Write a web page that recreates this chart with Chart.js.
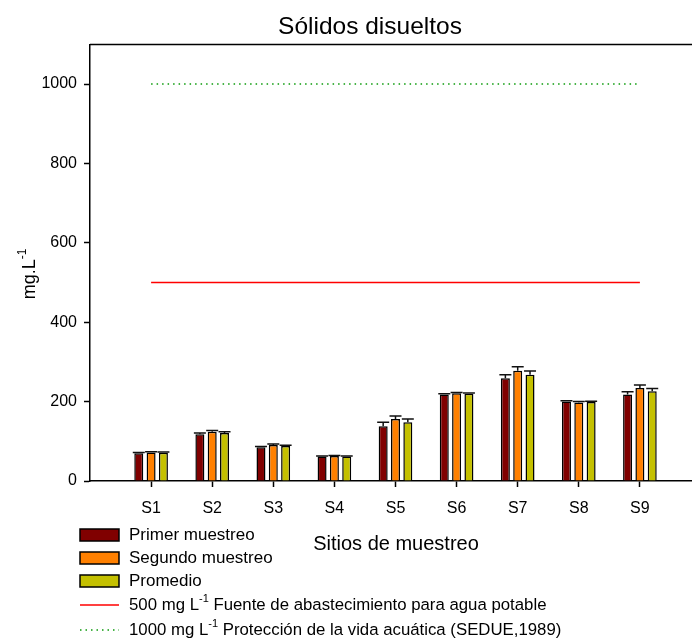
<!DOCTYPE html>
<html>
<head>
<meta charset="utf-8">
<title>Sólidos disueltos</title>
<script src="https://cdn.jsdelivr.net/npm/chart.js@4.4.1/dist/chart.umd.min.js"></script>
<style>
  html, body { margin: 0; padding: 0; background: #fff; overflow: hidden; }
  #wrap { width: 692px; height: 641px; overflow: hidden; }
  canvas { display: block; }
</style>
</head>
<body>
<div id="wrap"><canvas id="root" width="740" height="641"></canvas></div>
<script>
// sampling sites
const sites = ['S1', 'S2', 'S3', 'S4', 'S5', 'S6', 'S7', 'S8', 'S9'];

// dissolved solids, mg/L
const primer   = [70, 118, 85, 62, 138, 218, 259, 200, 218];
const segundo  = [72, 124, 91, 63, 156, 221, 278, 198, 234];
const promedio = [71, 121, 88, 62, 148, 220, 268, 199, 226];

// upper error bars
const errPrimer   = [2, 3, 2, 1, 10, 2, 9, 2, 7];
const errSegundo  = [2, 3, 2, 1, 8, 2, 10, 2, 8];
const errPromedio = [2, 3, 2, 1, 8, 2, 9, 2, 7];

// reference limits
const limitePotable = 500;
const limiteAcuatica = 1000;

const yTicks = [0, 200, 400, 600, 800, 1000];

const FONT = '"Liberation Sans", Arial, Helvetica, sans-serif';

const colors = {
    primer: '#800000',
    segundo: '#ff8000',
    promedio: '#c4c000',
    potable: '#ff0000',
    acuatica: '#0a9a0a'
};

const pts = (vals) => vals.map((v, i) => ({ x: i + 1, y: v }));
const flat = (v) => sites.map((s, i) => ({ x: i + 1, y: v }));

// text with an optional superscript piece, e.g. L^-1
function drawRich(ctx, parts, x, y, size) {
    let cx = x;
    parts.forEach(p => {
        if (p.sup) {
            ctx.font = Math.round(size * 0.65) + 'px ' + FONT;
            ctx.fillText(p.t, cx, y - size * 0.38);
        } else {
            ctx.font = size + 'px ' + FONT;
            ctx.fillText(p.t, cx, y);
        }
        cx += ctx.measureText(p.t).width;
    });
    return cx - x;
}

const errorBars = {
    id: 'errorBars',
    afterDatasetsDraw(chart) {
        const ctx = chart.ctx;
        const y = chart.scales.y;
        const errs = [errPrimer, errSegundo, errPromedio];
        const vals = [primer, segundo, promedio];
        ctx.save();
        ctx.strokeStyle = '#111';
        ctx.lineWidth = 1.5;
        for (let d = 0; d < 3; d++) {
            const meta = chart.getDatasetMeta(d);
            meta.data.forEach((bar, i) => {
                const top = y.getPixelForValue(vals[d][i] + errs[d][i]);
                ctx.beginPath();
                ctx.moveTo(bar.x, bar.y);
                ctx.lineTo(bar.x, top);
                ctx.moveTo(bar.x - 6, top);
                ctx.lineTo(bar.x + 6, top);
                ctx.stroke();
            });
        }
        ctx.restore();
    }
};

const decorations = {
    id: 'decorations',
    afterDraw(chart) {
        const ctx = chart.ctx;
        const area = chart.chartArea;
        ctx.save();

        // top frame line
        ctx.strokeStyle = '#000';
        ctx.lineWidth = 1.5;
        ctx.beginPath();
        ctx.moveTo(area.left, area.top);
        ctx.lineTo(chart.width, area.top);
        ctx.stroke();

        ctx.fillStyle = '#000';
        ctx.textBaseline = 'middle';

        // x axis title
        ctx.font = '20px ' + FONT;
        ctx.textAlign = 'center';
        ctx.fillText('Sitios de muestreo', 396, 544);

        // y axis title, rotated
        ctx.save();
        ctx.translate(30, 274);
        ctx.rotate(-Math.PI / 2);
        ctx.textAlign = 'left';
        ctx.font = '18px ' + FONT;
        const w = ctx.measureText('mg.L').width;
        ctx.font = '12px ' + FONT;
        const ws = ctx.measureText('-1').width;
        drawRich(ctx, [{ t: 'mg.L' }, { t: '-1', sup: true }], -(w + ws) / 2, 0, 18);
        ctx.restore();

        // legend
        ctx.textAlign = 'left';
        const lx = 80, lw = 39, tx = 129;
        const boxes = [
            { c: colors.primer, y: 535, label: 'Primer muestreo' },
            { c: colors.segundo, y: 558, label: 'Segundo muestreo' },
            { c: colors.promedio, y: 581, label: 'Promedio' }
        ];
        boxes.forEach(b => {
            ctx.fillStyle = b.c;
            ctx.fillRect(lx, b.y - 6, lw, 12);
            ctx.strokeStyle = '#000';
            ctx.lineWidth = 1.5;
            ctx.strokeRect(lx, b.y - 6, lw, 12);
            ctx.fillStyle = '#000';
            ctx.font = '17px ' + FONT;
            ctx.fillText(b.label, tx, b.y);
        });

        ctx.strokeStyle = colors.potable;
        ctx.lineWidth = 1.5;
        ctx.beginPath();
        ctx.moveTo(lx, 605);
        ctx.lineTo(lx + lw, 605);
        ctx.stroke();
        ctx.fillStyle = '#000';
        drawRich(ctx, [{ t: '500 mg L' }, { t: '-1', sup: true },
            { t: ' Fuente de abastecimiento para agua potable' }], tx, 605, 16.8);

        ctx.strokeStyle = colors.acuatica;
        ctx.setLineDash([1.5, 4]);
        ctx.beginPath();
        ctx.moveTo(lx, 630);
        ctx.lineTo(lx + lw, 630);
        ctx.stroke();
        ctx.setLineDash([]);
        drawRich(ctx, [{ t: '1000 mg L' }, { t: '-1', sup: true },
            { t: ' Protección de la vida acuática (SEDUE,1989)' }], tx, 630, 16.8);

        ctx.restore();
    }
};

const barStyle = {
    borderColor: '#000',
    borderWidth: 1.5,
    categoryPercentage: 0.605,
    barPercentage: 0.73
};

const ctx = document.getElementById('root').getContext('2d');

const config = {
    type: 'bar',
    data: {
        datasets: [
            Object.assign({ label: 'Primer muestreo', data: pts(primer), backgroundColor: colors.primer }, barStyle),
            Object.assign({ label: 'Segundo muestreo', data: pts(segundo), backgroundColor: colors.segundo }, barStyle),
            Object.assign({ label: 'Promedio', data: pts(promedio), backgroundColor: colors.promedio }, barStyle),
            {
                type: 'line',
                label: '500 mg L-1',
                data: flat(limitePotable),
                borderColor: colors.potable,
                borderWidth: 1.5,
                pointRadius: 0
            },
            {
                type: 'line',
                label: '1000 mg L-1',
                data: flat(limiteAcuatica),
                borderColor: colors.acuatica,
                borderWidth: 1.5,
                borderDash: [1.5, 4],
                pointRadius: 0
            }
        ]
    },
    options: {
        responsive: false,
        animation: false,
        devicePixelRatio: 1,
        // equal side padding keeps the title centred at x = 370
        layout: { padding: { left: 39, right: 39, top: 0, bottom: 0 } },
        plugins: {
            legend: { display: false },
            tooltip: { enabled: false },
            title: {
                display: true,
                text: 'Sólidos disueltos',
                color: '#000',
                font: { family: FONT, size: 24.5, weight: 'normal' },
                padding: { top: 13, bottom: 2 }
            }
        },
        scales: {
            x: {
                type: 'linear',
                min: 0,
                max: 10,
                offset: false,
                afterBuildTicks: (scale) => {
                    scale.ticks = sites.map((s, i) => ({ value: i + 1 }));
                },
                afterFit: (scale) => { scale.height = 160; },
                ticks: {
                    callback: (v) => sites[v - 1] || '',
                    color: '#000',
                    font: { family: FONT, size: 16 },
                    padding: 12,
                    maxRotation: 0,
                    autoSkip: false
                },
                grid: {
                    offset: false,
                    drawOnChartArea: false,
                    tickLength: 6,
                    tickColor: '#000',
                    tickWidth: 1.5
                },
                border: { color: '#000', width: 1.5 }
            },
            y: {
                min: 0,
                max: 1100,
                afterBuildTicks: (scale) => {
                    scale.ticks = yTicks.map(v => ({ value: v }));
                },
                afterFit: (scale) => { scale.width = 51; },
                ticks: {
                    callback: (v) => String(v),
                    color: '#000',
                    font: { family: FONT, size: 16 },
                    padding: 7
                },
                grid: {
                    drawOnChartArea: false,
                    tickLength: 6,
                    tickColor: '#000',
                    tickWidth: 1.5
                },
                border: { color: '#000', width: 1.5 }
            }
        }
    },
    plugins: [errorBars, decorations]
};

let myChart = new Chart(ctx, config);
</script>
</body>
</html>
